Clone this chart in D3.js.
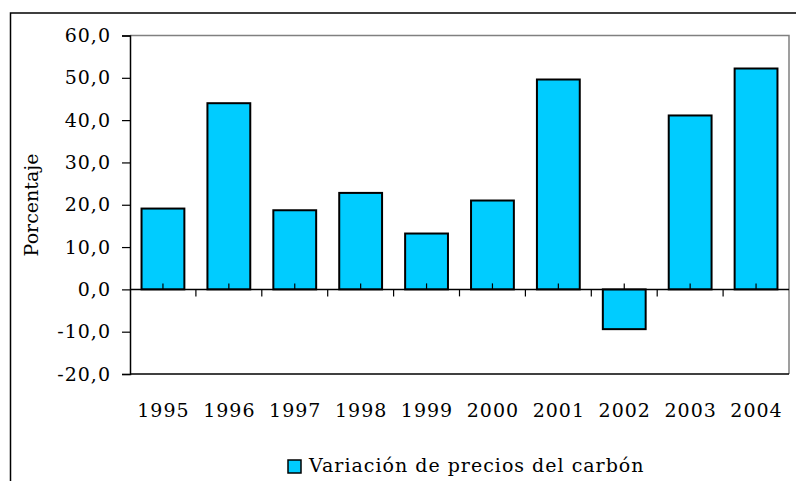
<!DOCTYPE html>
<html>
<head>
<meta charset="utf-8">
<script src="https://cdn.jsdelivr.net/npm/d3@7"></script>
<style>
  body { margin: 0; background: #fff; }
  text { font-family: "DejaVu Serif", serif; fill: #000; letter-spacing: 1px; }
</style>
</head>
<body>
<div id="chart"></div>
<script>
// data
var years = ["1995", "1996", "1997", "1998", "1999", "2000", "2001", "2002", "2003", "2004"];
var variacion = [19.1, 44.0, 18.7, 22.8, 13.2, 21.0, 49.6, -9.4, 41.1, 52.2];
var yTicks = [-20, -10, 0, 10, 20, 30, 40, 50, 60];
var serieName = "Variación de precios del carbón";

var width = 796, height = 481;
var plot = {left: 130, right: 789, top: 35.5, bottom: 374};
var fs = 19;

var svg = d3.select("#chart").append("svg")
    .attr("width", width)
    .attr("height", height);

// outer chart border (runs off right and bottom)
svg.append("rect")
    .attr("x", 10.5).attr("y", 13)
    .attr("width", 800).attr("height", 480)
    .attr("fill", "none")
    .attr("stroke", "#000")
    .attr("stroke-width", 1.5);

var x = d3.scaleBand()
    .domain(years)
    .range([plot.left, plot.right])
    .paddingInner(0.35)
    .paddingOuter(0.175);

var y = d3.scaleLinear()
    .domain([-20, 60])
    .range([plot.bottom, plot.top]);

// plot area frame: top/right gray
svg.append("path")
    .attr("d", "M" + plot.left + "," + plot.top + "H" + plot.right + "V" + plot.bottom)
    .attr("fill", "none")
    .attr("stroke", "#808080")
    .attr("stroke-width", 1.5);
svg.append("line")
    .attr("x1", plot.left).attr("x2", plot.right)
    .attr("y1", plot.bottom).attr("y2", plot.bottom)
    .attr("stroke", "#000").attr("stroke-width", 1.5);

// bars
svg.append("g").selectAll("rect")
    .data(years)
    .join("rect")
    .attr("x", function(d) { return x(d); })
    .attr("width", x.bandwidth())
    .attr("y", function(d, i) { return y(Math.max(0, variacion[i])); })
    .attr("height", function(d, i) { return Math.abs(y(variacion[i]) - y(0)); })
    .attr("fill", "#00CCFF")
    .attr("stroke", "#000")
    .attr("stroke-width", 2);

// y axis
var yAxis = svg.append("g")
    .attr("transform", "translate(" + plot.left + ",0)")
    .call(d3.axisLeft(y)
        .tickValues(yTicks)
        .tickSize(8)
        .tickPadding(11)
        .tickFormat(function(d) { return d.toFixed(1).replace(".", ","); }));
yAxis.attr("font-family", null).attr("font-size", null);
yAxis.select(".domain").attr("stroke", "#000").attr("stroke-width", 1.5);
yAxis.selectAll(".tick line").attr("stroke", "#000").attr("stroke-width", 1.2);
yAxis.selectAll(".tick text")
    .attr("font-size", fs)
    .attr("fill", "#000");

// category axis at zero
var step = x.step();
var bounds = years.map(function(d) { return x(d) + x.bandwidth() / 2 + step / 2; });
bounds.pop();
svg.append("line")
    .attr("x1", plot.left).attr("x2", plot.right)
    .attr("y1", y(0)).attr("y2", y(0))
    .attr("stroke", "#000").attr("stroke-width", 1.5);
svg.append("g").selectAll("line.b")
    .data(bounds)
    .join("line")
    .attr("x1", function(d) { return d; }).attr("x2", function(d) { return d; })
    .attr("y1", y(0)).attr("y2", y(0) + 7)
    .attr("stroke", "#000").attr("stroke-width", 1.2);
svg.append("g").selectAll("line.c")
    .data(years)
    .join("line")
    .attr("x1", function(d) { return x(d) + x.bandwidth() / 2; })
    .attr("x2", function(d) { return x(d) + x.bandwidth() / 2; })
    .attr("y1", y(0)).attr("y2", y(0) - 6)
    .attr("stroke", "#000").attr("stroke-width", 1.2);

// year labels below the plot
svg.append("g").selectAll("text")
    .data(years)
    .join("text")
    .attr("x", function(d) { return x(d) + x.bandwidth() / 2 + 0.5; })
    .attr("y", 417)
    .attr("text-anchor", "middle")
    .attr("font-size", fs)
    .text(function(d) { return d; });

// y title
svg.append("text")
    .attr("transform", "translate(38,205) rotate(-90)")
    .attr("text-anchor", "middle")
    .attr("font-size", fs)
    .style("letter-spacing", "0px")
    .text("Porcentaje");

// legend
svg.append("rect")
    .attr("x", 288).attr("y", 460)
    .attr("width", 13).attr("height", 13)
    .attr("fill", "#00CCFF")
    .attr("stroke", "#000")
    .attr("stroke-width", 1.5);
svg.append("text")
    .attr("x", 309).attr("y", 472)
    .attr("font-size", fs)
    .text(serieName);
</script>
</body>
</html>
